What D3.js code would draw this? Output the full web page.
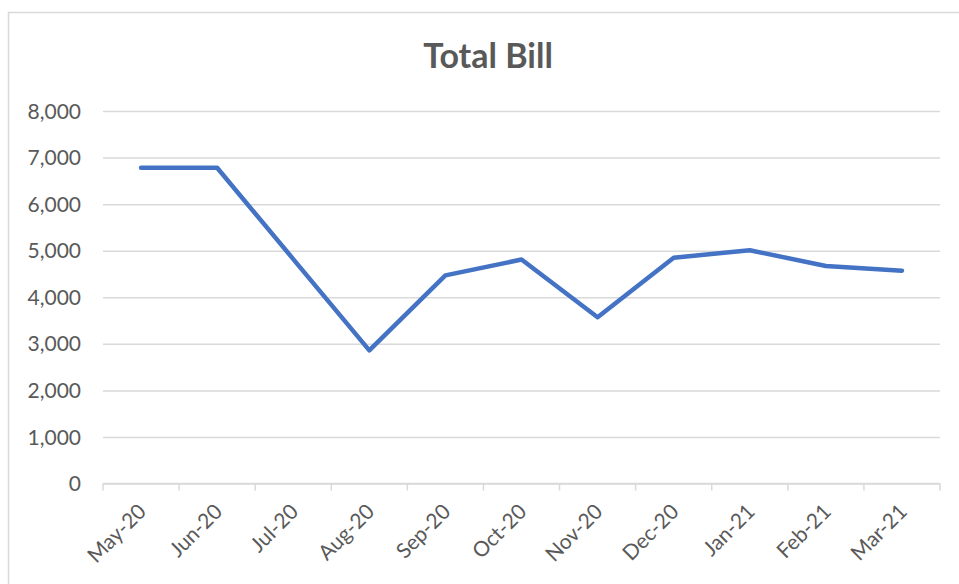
<!DOCTYPE html>
<html>
<head>
<meta charset="utf-8">
<title>Total Bill</title>
<script src="https://cdnjs.cloudflare.com/ajax/libs/d3/7.8.5/d3.min.js"></script>
<style>
	html, body { margin: 0; padding: 0; background: #fff; }
	svg { display: block; }
	.axis text { font-family: Lato, "Open Sans", sans-serif; fill: #595959; }
</style>
</head>
<body>
<div id="chart"></div>
<script>
// chart data
//- - - - - - - - - - - - - - - - - - - - - -
var months = ['May-20', 'Jun-20', 'Jul-20', 'Aug-20', 'Sep-20', 'Oct-20',
              'Nov-20', 'Dec-20', 'Jan-21', 'Feb-21', 'Mar-21'];
var totals = [6780, 6780, 4820, 2860, 4470, 4810, 3570, 4850, 5010, 4670, 4570];
var yTicks = [0, 1000, 2000, 3000, 4000, 5000, 6000, 7000, 8000];
var chartTitle = 'Total Bill';

(function(d3) {
	var width  = 959,
		height = 584,
		plot   = { left: 103, right: 940, top: 111, bottom: 483.5 },
		gridColor = '#d9d9d9',
		textColor = '#595959';

	var svg = d3.select('#chart')
		.append('svg')
		.attr('width', width)
		.attr('height', height);

	// chart border (runs off the right and bottom edge)
	//- - - - - - - - - - - - - - - - - - - - - -
	svg.append('rect')
		.attr('x', 8.5)
		.attr('y', 12.5)
		.attr('width', width + 20)
		.attr('height', height + 20)
		.attr('fill', 'none')
		.attr('stroke', gridColor)
		.attr('stroke-width', 1.5);

	// scales
	//- - - - - - - - - - - - - - - - - - - - - -
	var x = d3.scaleBand()
		.domain(months)
		.range([plot.left, plot.right])
		.padding(0);

	var y = d3.scaleLinear()
		.domain([0, d3.max(yTicks)])
		.range([plot.bottom, plot.top]);

	// y axis + gridlines
	//- - - - - - - - - - - - - - - - - - - - - -
	var yAxis = svg.append('g')
		.attr('class', 'axis')
		.attr('transform', 'translate(' + plot.left + ',0)')
		.call(d3.axisLeft(y)
			.tickValues(yTicks)
			.tickSize(-(plot.right - plot.left))
			.tickPadding(22)
			.tickFormat(d3.format(',')));

	yAxis.select('.domain').remove();
	yAxis.selectAll('.tick line')
		.attr('stroke', gridColor)
		.attr('stroke-width', 1.5);
	yAxis.selectAll('.tick text')
		.attr('font-size', 21)
		.attr('dy', '0.34em');

	// x axis: labels at category centres, ticks at boundaries
	//- - - - - - - - - - - - - - - - - - - - - -
	var xAxis = svg.append('g')
		.attr('class', 'axis')
		.attr('transform', 'translate(0,' + plot.bottom + ')')
		.call(d3.axisBottom(x).tickSize(0).tickPadding(0));

	xAxis.select('.domain').remove();
	xAxis.selectAll('.tick text')
		.attr('font-size', 21)
		.attr('text-anchor', 'end')
		.attr('transform', 'translate(-4,19) rotate(-45)')
		.attr('dy', '0.7em');

	var boundaries = months.map(function(m) { return x(m); }).concat([plot.right]);

	svg.append('g')
		.selectAll('line')
		.data(boundaries)
		.enter()
		.append('line')
		.attr('x1', function(d) { return d; })
		.attr('x2', function(d) { return d; })
		.attr('y1', plot.bottom)
		.attr('y2', plot.bottom + 7)
		.attr('stroke', gridColor)
		.attr('stroke-width', 1.5);

	svg.append('line')
		.attr('x1', plot.left)
		.attr('x2', plot.right)
		.attr('y1', y(0))
		.attr('y2', y(0))
		.attr('stroke', gridColor)
		.attr('stroke-width', 1.5);

	// series line
	//- - - - - - - - - - - - - - - - - - - - - -
	var line = d3.line()
		.x(function(d, i) { return x(months[i]) + x.bandwidth() / 2; })
		.y(function(d) { return y(d); });

	svg.append('path')
		.datum(totals)
		.attr('d', line)
		.attr('fill', 'none')
		.attr('stroke', '#4472c4')
		.attr('stroke-width', 4.5)
		.attr('stroke-linejoin', 'round')
		.attr('stroke-linecap', 'round');

	// title
	//- - - - - - - - - - - - - - - - - - - - - -
	svg.append('text')
		.attr('x', 488)
		.attr('y', 68)
		.attr('text-anchor', 'middle')
		.attr('font-family', 'Lato, "Open Sans", sans-serif')
		.attr('font-weight', 'bold')
		.attr('font-size', 34)
		.attr('fill', textColor)
		.text(chartTitle);

})(d3);
</script>
</body>
</html>
